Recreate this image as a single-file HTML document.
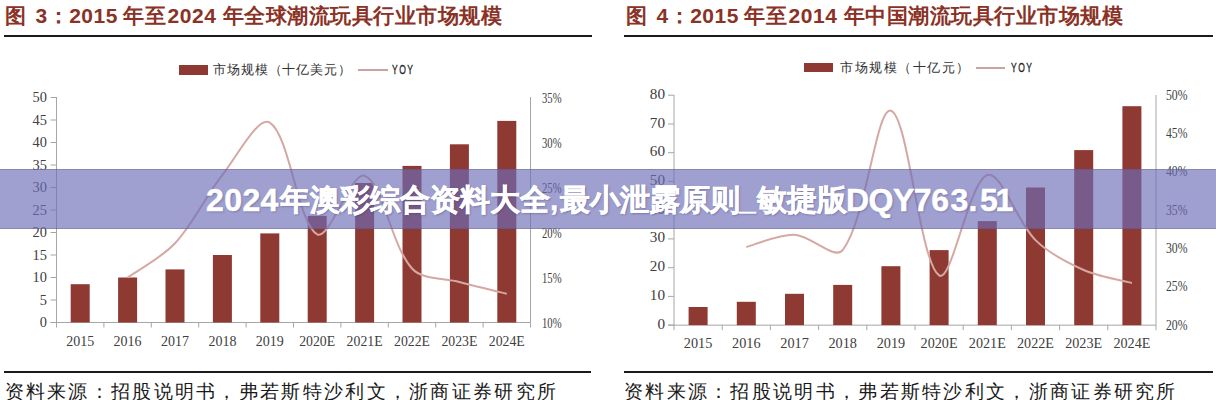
<!DOCTYPE html>
<html><head><meta charset="utf-8">
<style>
html,body{margin:0;padding:0;background:#fff;}
body{width:1216px;height:400px;position:relative;overflow:hidden;font-family:"Liberation Sans",sans-serif;}
.title{position:absolute;top:3px;font-size:21px;letter-spacing:0.5px;font-weight:900;color:#8a3226;white-space:nowrap;line-height:26px;}
.sp{letter-spacing:-2.5px;}
.rule{position:absolute;height:2px;background:#1a1a1a;}
.src{position:absolute;top:379px;font-size:18.5px;letter-spacing:2.3px;color:#1a1a1a;font-weight:300;white-space:nowrap;font-family:"Liberation Serif",serif;line-height:26px;}
.leg{position:absolute;font-size:13px;color:#333;font-weight:500;white-space:nowrap;line-height:14px;letter-spacing:0.9px;}
.yoy{position:absolute;font-size:12.5px;color:#222;line-height:14px;transform:scaleX(0.68);transform-origin:0 0;letter-spacing:2.2px;-webkit-text-stroke:0.3px #222;}
svg{position:absolute;left:0;top:0;}
.ax{font-family:"Liberation Serif",serif;font-size:14px;fill:#404040;}
.xl{letter-spacing:0px;}
.pc{font-size:10px;letter-spacing:0;}
.banner{position:absolute;left:0;top:169px;width:1216px;height:60px;background:rgba(109,109,184,0.66);box-shadow:inset 0 1px 0 rgba(80,80,110,0.3),inset 0 -1px 0 rgba(80,80,110,0.3);}
.btxt{position:absolute;left:0;top:169px;width:1216px;height:60px;color:#fff;font-weight:900;font-size:30px;white-space:nowrap;text-shadow:1px 1px 2px rgba(40,40,80,0.35);}
.btxt span{position:absolute;top:1px;line-height:60px;-webkit-text-stroke:0.5px #fff;}
</style></head><body>
<div class="title" style="left:5px"><span style="margin-right:9px">图</span>3：2015<span style="letter-spacing:-0.5px"> </span>年至<span style="letter-spacing:-4.5px"> </span>2024<span style="letter-spacing:0.5px"> </span>年全球潮流玩具行业市场规模</div>
<div class="rule" style="left:4px;top:35px;width:588px"></div>
<div class="title" style="left:626px"><span style="margin-right:9px">图</span>4：2015<span style="letter-spacing:-0.5px"> </span>年至<span style="letter-spacing:-4.5px"> </span>2014<span style="letter-spacing:0.5px"> </span>年中国潮流玩具行业市场规模</div>
<div class="rule" style="left:624px;top:35px;width:589px"></div>

<div style="position:absolute;left:179px;top:65px;width:29px;height:10px;background:#8e3a32"></div>
<div class="leg" style="left:213px;top:63px">市场规模（十亿美元）</div>
<div style="position:absolute;left:358px;top:69px;width:30px;height:2px;background:#c9a3a3"></div>
<div class="yoy" style="left:392px;top:63px">YOY</div>

<div style="position:absolute;left:804px;top:63px;width:29px;height:9px;background:#8e3a32"></div>
<div class="leg" style="left:840px;top:61px;letter-spacing:1.5px">市场规模（十亿元）</div>
<div style="position:absolute;left:976px;top:67px;width:29px;height:2px;background:#c9a3a3"></div>
<div class="yoy" style="left:1011px;top:61px">YOY</div>

<svg width="1216" height="400" viewBox="0 0 1216 400">
<line x1="56.5" y1="97" x2="56.5" y2="322.5" stroke="#a6a6a6" stroke-width="1"/>
<line x1="530.5" y1="97" x2="530.5" y2="322.5" stroke="#a6a6a6" stroke-width="1"/>
<line x1="50.5" y1="322.5" x2="530.5" y2="322.5" stroke="#a6a6a6" stroke-width="1"/>
<line x1="50.5" y1="322.5" x2="56.5" y2="322.5" stroke="#a6a6a6" stroke-width="1"/>
<text x="47" y="327.3" text-anchor="end" class="ax" textLength="7.2" lengthAdjust="spacingAndGlyphs">0</text>
<line x1="50.5" y1="300.0" x2="56.5" y2="300.0" stroke="#a6a6a6" stroke-width="1"/>
<text x="47" y="304.8" text-anchor="end" class="ax" textLength="7.2" lengthAdjust="spacingAndGlyphs">5</text>
<line x1="50.5" y1="277.5" x2="56.5" y2="277.5" stroke="#a6a6a6" stroke-width="1"/>
<text x="47" y="282.3" text-anchor="end" class="ax" textLength="14.4" lengthAdjust="spacingAndGlyphs">10</text>
<line x1="50.5" y1="255.0" x2="56.5" y2="255.0" stroke="#a6a6a6" stroke-width="1"/>
<text x="47" y="259.8" text-anchor="end" class="ax" textLength="14.4" lengthAdjust="spacingAndGlyphs">15</text>
<line x1="50.5" y1="232.5" x2="56.5" y2="232.5" stroke="#a6a6a6" stroke-width="1"/>
<text x="47" y="237.3" text-anchor="end" class="ax" textLength="14.4" lengthAdjust="spacingAndGlyphs">20</text>
<line x1="50.5" y1="210.0" x2="56.5" y2="210.0" stroke="#a6a6a6" stroke-width="1"/>
<text x="47" y="214.8" text-anchor="end" class="ax" textLength="14.4" lengthAdjust="spacingAndGlyphs">25</text>
<line x1="50.5" y1="187.5" x2="56.5" y2="187.5" stroke="#a6a6a6" stroke-width="1"/>
<text x="47" y="192.3" text-anchor="end" class="ax" textLength="14.4" lengthAdjust="spacingAndGlyphs">30</text>
<line x1="50.5" y1="165.0" x2="56.5" y2="165.0" stroke="#a6a6a6" stroke-width="1"/>
<text x="47" y="169.8" text-anchor="end" class="ax" textLength="14.4" lengthAdjust="spacingAndGlyphs">35</text>
<line x1="50.5" y1="142.5" x2="56.5" y2="142.5" stroke="#a6a6a6" stroke-width="1"/>
<text x="47" y="147.3" text-anchor="end" class="ax" textLength="14.4" lengthAdjust="spacingAndGlyphs">40</text>
<line x1="50.5" y1="120.0" x2="56.5" y2="120.0" stroke="#a6a6a6" stroke-width="1"/>
<text x="47" y="124.8" text-anchor="end" class="ax" textLength="14.4" lengthAdjust="spacingAndGlyphs">45</text>
<line x1="50.5" y1="97.5" x2="56.5" y2="97.5" stroke="#a6a6a6" stroke-width="1"/>
<text x="47" y="102.3" text-anchor="end" class="ax" textLength="14.4" lengthAdjust="spacingAndGlyphs">50</text>
<text x="542" y="327.8" class="ax" textLength="19.5" lengthAdjust="spacingAndGlyphs">10%</text>
<text x="542" y="282.8" class="ax" textLength="19.5" lengthAdjust="spacingAndGlyphs">15%</text>
<text x="542" y="237.8" class="ax" textLength="19.5" lengthAdjust="spacingAndGlyphs">20%</text>
<text x="542" y="192.8" class="ax" textLength="19.5" lengthAdjust="spacingAndGlyphs">25%</text>
<text x="542" y="147.8" class="ax" textLength="19.5" lengthAdjust="spacingAndGlyphs">30%</text>
<text x="542" y="102.8" class="ax" textLength="19.5" lengthAdjust="spacingAndGlyphs">35%</text>
<line x1="56.5" y1="322.5" x2="56.5" y2="327.5" stroke="#a6a6a6" stroke-width="1"/>
<line x1="103.9" y1="322.5" x2="103.9" y2="327.5" stroke="#a6a6a6" stroke-width="1"/>
<line x1="151.3" y1="322.5" x2="151.3" y2="327.5" stroke="#a6a6a6" stroke-width="1"/>
<line x1="198.7" y1="322.5" x2="198.7" y2="327.5" stroke="#a6a6a6" stroke-width="1"/>
<line x1="246.1" y1="322.5" x2="246.1" y2="327.5" stroke="#a6a6a6" stroke-width="1"/>
<line x1="293.5" y1="322.5" x2="293.5" y2="327.5" stroke="#a6a6a6" stroke-width="1"/>
<line x1="340.9" y1="322.5" x2="340.9" y2="327.5" stroke="#a6a6a6" stroke-width="1"/>
<line x1="388.3" y1="322.5" x2="388.3" y2="327.5" stroke="#a6a6a6" stroke-width="1"/>
<line x1="435.7" y1="322.5" x2="435.7" y2="327.5" stroke="#a6a6a6" stroke-width="1"/>
<line x1="483.1" y1="322.5" x2="483.1" y2="327.5" stroke="#a6a6a6" stroke-width="1"/>
<line x1="530.5" y1="322.5" x2="530.5" y2="327.5" stroke="#a6a6a6" stroke-width="1"/>
<rect x="70.7" y="284.2" width="19" height="38.2" fill="#8e3a32"/>
<rect x="118.1" y="277.5" width="19" height="45.0" fill="#8e3a32"/>
<rect x="165.5" y="269.4" width="19" height="53.1" fill="#8e3a32"/>
<rect x="212.9" y="255.0" width="19" height="67.5" fill="#8e3a32"/>
<rect x="260.3" y="233.4" width="19" height="89.1" fill="#8e3a32"/>
<rect x="307.7" y="215.9" width="19" height="106.6" fill="#8e3a32"/>
<rect x="355.1" y="183.0" width="19" height="139.5" fill="#8e3a32"/>
<rect x="402.5" y="165.9" width="19" height="156.6" fill="#8e3a32"/>
<rect x="449.9" y="144.3" width="19" height="178.2" fill="#8e3a32"/>
<rect x="497.3" y="120.9" width="19" height="201.6" fill="#8e3a32"/>
<text x="80.2" y="345.5" text-anchor="middle" class="ax xl" textLength="28.0" lengthAdjust="spacingAndGlyphs">2015</text>
<text x="127.6" y="345.5" text-anchor="middle" class="ax xl" textLength="28.0" lengthAdjust="spacingAndGlyphs">2016</text>
<text x="175.0" y="345.5" text-anchor="middle" class="ax xl" textLength="28.0" lengthAdjust="spacingAndGlyphs">2017</text>
<text x="222.4" y="345.5" text-anchor="middle" class="ax xl" textLength="28.0" lengthAdjust="spacingAndGlyphs">2018</text>
<text x="269.8" y="345.5" text-anchor="middle" class="ax xl" textLength="28.0" lengthAdjust="spacingAndGlyphs">2019</text>
<text x="317.2" y="345.5" text-anchor="middle" class="ax xl" textLength="36.0" lengthAdjust="spacingAndGlyphs">2020E</text>
<text x="364.6" y="345.5" text-anchor="middle" class="ax xl" textLength="36.0" lengthAdjust="spacingAndGlyphs">2021E</text>
<text x="412.0" y="345.5" text-anchor="middle" class="ax xl" textLength="36.0" lengthAdjust="spacingAndGlyphs">2022E</text>
<text x="459.4" y="345.5" text-anchor="middle" class="ax xl" textLength="36.0" lengthAdjust="spacingAndGlyphs">2023E</text>
<text x="506.8" y="345.5" text-anchor="middle" class="ax xl" textLength="36.0" lengthAdjust="spacingAndGlyphs">2024E</text>
<path d="M127.6,277.5 C135.5,271.8 162.0,257.4 175.0,243.3 C193.6,223.2 205.3,196.7 222.4,174.9 C236.9,156.5 258.2,115.4 269.8,122.7 C289.8,135.2 297.7,223.4 317.2,234.3 C329.3,241.1 351.3,171.0 364.6,175.8 C382.9,182.4 390.6,244.5 412.0,268.5 C422.2,279.9 443.5,277.8 459.4,282.0 C475.1,286.2 498.9,291.8 506.8,293.7" fill="none" stroke="#d5a8a3" stroke-width="2"/>
<line x1="674" y1="95" x2="674" y2="325.15" stroke="#a6a6a6" stroke-width="1"/>
<line x1="1156" y1="95" x2="1156" y2="325.15" stroke="#a6a6a6" stroke-width="1"/>
<line x1="668" y1="325.15" x2="1156" y2="325.15" stroke="#a6a6a6" stroke-width="1"/>
<line x1="668" y1="325.1" x2="674" y2="325.1" stroke="#a6a6a6" stroke-width="1"/>
<text x="665" y="328.6" text-anchor="end" class="ax" textLength="7.6" lengthAdjust="spacingAndGlyphs">0</text>
<line x1="668" y1="296.4" x2="674" y2="296.4" stroke="#a6a6a6" stroke-width="1"/>
<text x="665" y="299.9" text-anchor="end" class="ax" textLength="15.2" lengthAdjust="spacingAndGlyphs">10</text>
<line x1="668" y1="267.7" x2="674" y2="267.7" stroke="#a6a6a6" stroke-width="1"/>
<text x="665" y="271.2" text-anchor="end" class="ax" textLength="15.2" lengthAdjust="spacingAndGlyphs">20</text>
<line x1="668" y1="238.9" x2="674" y2="238.9" stroke="#a6a6a6" stroke-width="1"/>
<text x="665" y="242.4" text-anchor="end" class="ax" textLength="15.2" lengthAdjust="spacingAndGlyphs">30</text>
<line x1="668" y1="210.2" x2="674" y2="210.2" stroke="#a6a6a6" stroke-width="1"/>
<text x="665" y="213.7" text-anchor="end" class="ax" textLength="15.2" lengthAdjust="spacingAndGlyphs">40</text>
<line x1="668" y1="181.4" x2="674" y2="181.4" stroke="#a6a6a6" stroke-width="1"/>
<text x="665" y="184.9" text-anchor="end" class="ax" textLength="15.2" lengthAdjust="spacingAndGlyphs">50</text>
<line x1="668" y1="152.7" x2="674" y2="152.7" stroke="#a6a6a6" stroke-width="1"/>
<text x="665" y="156.2" text-anchor="end" class="ax" textLength="15.2" lengthAdjust="spacingAndGlyphs">60</text>
<line x1="668" y1="124.0" x2="674" y2="124.0" stroke="#a6a6a6" stroke-width="1"/>
<text x="665" y="127.5" text-anchor="end" class="ax" textLength="15.2" lengthAdjust="spacingAndGlyphs">70</text>
<line x1="668" y1="95.2" x2="674" y2="95.2" stroke="#a6a6a6" stroke-width="1"/>
<text x="665" y="98.7" text-anchor="end" class="ax" textLength="15.2" lengthAdjust="spacingAndGlyphs">80</text>
<text x="1166" y="329.6" class="ax" textLength="21.5" lengthAdjust="spacingAndGlyphs">20%</text>
<text x="1166" y="291.3" class="ax" textLength="21.5" lengthAdjust="spacingAndGlyphs">25%</text>
<text x="1166" y="253.0" class="ax" textLength="21.5" lengthAdjust="spacingAndGlyphs">30%</text>
<text x="1166" y="214.7" class="ax" textLength="21.5" lengthAdjust="spacingAndGlyphs">35%</text>
<text x="1166" y="176.4" class="ax" textLength="21.5" lengthAdjust="spacingAndGlyphs">40%</text>
<text x="1166" y="138.1" class="ax" textLength="21.5" lengthAdjust="spacingAndGlyphs">45%</text>
<text x="1166" y="99.8" class="ax" textLength="21.5" lengthAdjust="spacingAndGlyphs">50%</text>
<line x1="674.0" y1="325.15" x2="674.0" y2="330.15" stroke="#a6a6a6" stroke-width="1"/>
<line x1="722.2" y1="325.15" x2="722.2" y2="330.15" stroke="#a6a6a6" stroke-width="1"/>
<line x1="770.4" y1="325.15" x2="770.4" y2="330.15" stroke="#a6a6a6" stroke-width="1"/>
<line x1="818.6" y1="325.15" x2="818.6" y2="330.15" stroke="#a6a6a6" stroke-width="1"/>
<line x1="866.8" y1="325.15" x2="866.8" y2="330.15" stroke="#a6a6a6" stroke-width="1"/>
<line x1="915.0" y1="325.15" x2="915.0" y2="330.15" stroke="#a6a6a6" stroke-width="1"/>
<line x1="963.2" y1="325.15" x2="963.2" y2="330.15" stroke="#a6a6a6" stroke-width="1"/>
<line x1="1011.4" y1="325.15" x2="1011.4" y2="330.15" stroke="#a6a6a6" stroke-width="1"/>
<line x1="1059.6" y1="325.15" x2="1059.6" y2="330.15" stroke="#a6a6a6" stroke-width="1"/>
<line x1="1107.8" y1="325.15" x2="1107.8" y2="330.15" stroke="#a6a6a6" stroke-width="1"/>
<line x1="1156.0" y1="325.15" x2="1156.0" y2="330.15" stroke="#a6a6a6" stroke-width="1"/>
<rect x="688.6" y="307.0" width="19" height="18.1" fill="#8e3a32"/>
<rect x="736.8" y="301.8" width="19" height="23.4" fill="#8e3a32"/>
<rect x="785.0" y="293.8" width="19" height="31.3" fill="#8e3a32"/>
<rect x="833.2" y="284.9" width="19" height="40.2" fill="#8e3a32"/>
<rect x="881.4" y="266.2" width="19" height="58.9" fill="#8e3a32"/>
<rect x="929.6" y="250.1" width="19" height="75.0" fill="#8e3a32"/>
<rect x="977.8" y="221.1" width="19" height="104.0" fill="#8e3a32"/>
<rect x="1026.0" y="187.5" width="19" height="137.7" fill="#8e3a32"/>
<rect x="1074.2" y="150.1" width="19" height="175.0" fill="#8e3a32"/>
<rect x="1122.4" y="106.2" width="19" height="219.0" fill="#8e3a32"/>
<text x="698.1" y="347.5" text-anchor="middle" class="ax xl" textLength="28.5" lengthAdjust="spacingAndGlyphs">2015</text>
<text x="746.3" y="347.5" text-anchor="middle" class="ax xl" textLength="28.5" lengthAdjust="spacingAndGlyphs">2016</text>
<text x="794.5" y="347.5" text-anchor="middle" class="ax xl" textLength="28.5" lengthAdjust="spacingAndGlyphs">2017</text>
<text x="842.7" y="347.5" text-anchor="middle" class="ax xl" textLength="28.5" lengthAdjust="spacingAndGlyphs">2018</text>
<text x="890.9" y="347.5" text-anchor="middle" class="ax xl" textLength="28.5" lengthAdjust="spacingAndGlyphs">2019</text>
<text x="939.1" y="347.5" text-anchor="middle" class="ax xl" textLength="37.0" lengthAdjust="spacingAndGlyphs">2020E</text>
<text x="987.3" y="347.5" text-anchor="middle" class="ax xl" textLength="37.0" lengthAdjust="spacingAndGlyphs">2021E</text>
<text x="1035.5" y="347.5" text-anchor="middle" class="ax xl" textLength="37.0" lengthAdjust="spacingAndGlyphs">2022E</text>
<text x="1083.7" y="347.5" text-anchor="middle" class="ax xl" textLength="37.0" lengthAdjust="spacingAndGlyphs">2023E</text>
<text x="1131.9" y="347.5" text-anchor="middle" class="ax xl" textLength="37.0" lengthAdjust="spacingAndGlyphs">2024E</text>
<path d="M746.3,247.0 C754.3,245.0 778.6,234.3 794.5,234.8 C810.7,235.3 834.5,260.6 842.7,250.1 C866.6,219.3 876.0,106.8 890.9,110.7 C908.2,115.2 919.6,262.4 939.1,275.4 C951.7,283.8 968.7,181.8 987.3,175.0 C1000.8,170.1 1016.6,221.5 1035.5,240.1 C1048.7,253.2 1066.6,262.4 1083.7,270.0 C1098.7,276.7 1123.9,280.8 1131.9,283.0" fill="none" stroke="#d5a8a3" stroke-width="2"/>
</svg>

<div class="rule" style="left:4px;top:371px;width:587px"></div>
<div class="src" style="left:4.5px">资料来源：招股说明书，弗若斯特沙利文，浙商证券研究所</div>
<div class="rule" style="left:624px;top:371px;width:589px"></div>
<div class="src" style="left:624px">资料来源：招股说明书，弗若斯特沙利文，浙商证券研究所</div>

<div class="banner"></div>
<div class="btxt">
<span style="left:206px;letter-spacing:0.4px;font-size:32px">2024</span>
<span style="left:280px">年澳彩综合资料大全</span>
<span style="left:550px">,</span>
<span style="left:560px">最小泄露原则</span>
<span style="left:739px">_</span>
<span style="left:757px">敏捷版</span>
<span style="left:846px;letter-spacing:-0.5px;font-size:32px">DQY76</span>
<span style="left:950.5px;font-size:32px">3</span>
<span style="left:968.5px;font-size:32px">.</span>
<span style="left:980px;font-size:32px">5</span>
<span style="left:995.5px;font-size:32px">1</span>
</div>
</body></html>
